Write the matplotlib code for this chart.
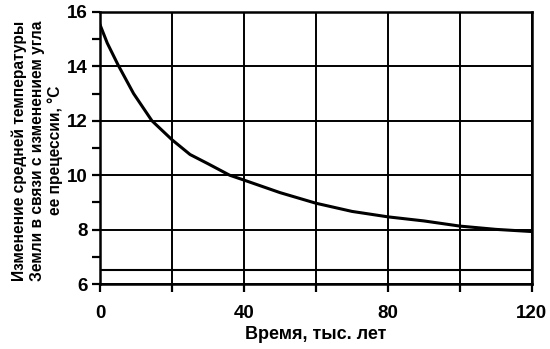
import matplotlib
matplotlib.use("Agg")
import matplotlib.pyplot as plt
from matplotlib.ticker import MultipleLocator

plt.rcParams['font.family'] = ['Liberation Sans', 'DejaVu Sans']

time_kyr = [0, 2, 5, 9.3, 14.4, 20, 25, 30, 36, 40, 50, 60, 70, 80, 90, 100, 110, 120]
temp_c = [15.52, 14.85, 14.05, 13.0, 12.0, 11.3, 10.76, 10.42, 10.0, 9.82, 9.36, 8.97, 8.67, 8.47, 8.32, 8.13, 8.01, 7.93]
baseline_c = 6.5
x_ticks = [0, 20, 40, 60, 80, 100, 120]
x_tick_labels = ['0', '', '40', '', '80', '', '120']
y_ticks = [6, 8, 10, 12, 14, 16]

fig = plt.figure(figsize=(5.5, 3.49), dpi=100)
ax = fig.add_axes([0.182, 0.186, 0.785, 0.78])

ax.plot(time_kyr, temp_c, color='black', lw=2.2, zorder=3)
ax.axhline(baseline_c, color='black', lw=1.5, zorder=2)

ax.set_xlim(0, 120)
ax.set_ylim(6, 16)
ax.set_xticks(x_ticks)
ax.set_xticklabels(x_tick_labels)
ax.set_yticks(y_ticks)
ax.yaxis.set_minor_locator(MultipleLocator(1))
ax.grid(True, which='major', color='black', lw=1.4)
ax.set_axisbelow(True)

for s in ax.spines.values():
    s.set_linewidth(1.8)
    s.set_color('black')

ax.tick_params(axis='both', which='major', direction='out', length=6, width=1.6,
               labelsize=13.5, pad=3)
ax.tick_params(axis='y', which='minor', direction='out', length=6, width=1.6)
ax.tick_params(axis='x', which='major', pad=9)
for lbl in ax.get_xticklabels() + ax.get_yticklabels():
    lbl.set_fontweight('bold')

ax.set_xlabel('Время, тыс. лет', fontsize=13, fontweight='bold', labelpad=3)
ax.set_ylabel('Изменение средней температуры\nЗемли в связи с изменением угла\nее прецессии, °C',
              fontsize=11.2, fontweight='bold', linespacing=1.22)
ax.yaxis.set_label_coords(-0.086, 0.49)

fig.savefig('out.png', dpi=100)
